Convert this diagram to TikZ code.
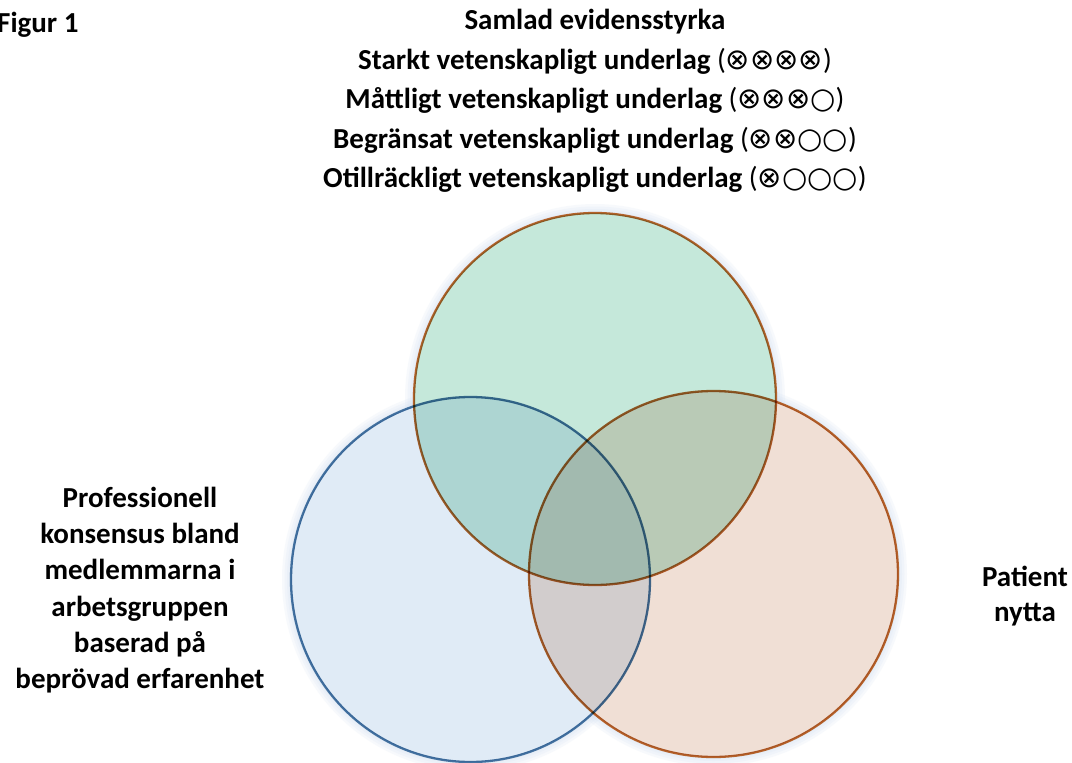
\documentclass[tikz,border=0pt]{standalone}
\usepackage{fontspec}
\setmainfont{Carlito}
\newfontfamily\symfont{DejaVu Sans}
\definecolor{greenfill}{HTML}{C5E8DA}
\definecolor{bluefill}{HTML}{E0EBF6}
\definecolor{orangefill}{HTML}{F0DFD5}
\definecolor{rustline}{HTML}{B5622A}
\definecolor{blueline}{HTML}{4472A0}
\definecolor{halo}{HTML}{C9DAEE}
\newcommand{\xo}{{\symfont ⊗}}
\newcommand{\oo}{{\symfont ○}}
\tikzset{
  label text/.style={font=\fontsize{29}{37}\selectfont\bfseries, align=center, inner sep=0pt},
  ring/.style={line width=2.3pt},
  glow/.style={draw=halo, opacity=0.14}
}
\begin{document}
\begin{tikzpicture}[x=1pt, y=-1pt]
\useasboundingbox (0,0) rectangle (1072,763);
\clip (0,0) rectangle (1072,763);
\fill[white] (0,0) rectangle (1072,763);

% soft halo behind the three sets
\foreach \w in {18,13,8,4}{
  \draw[glow, line width=\w pt] (595,399) ellipse [x radius=181pt, y radius=186pt];
  \draw[glow, line width=\w pt] (470.5,579.5) ellipse [x radius=179.5pt, y radius=182.5pt];
  \draw[glow, line width=\w pt] (713.5,574) ellipse [x radius=184.5pt, y radius=183pt];
}

% the three overlapping sets, mixed multiplicatively
\begin{scope}[blend group=multiply]
  \filldraw[ring, fill=bluefill, draw=blueline] (470.5,579.5) ellipse [x radius=179.5pt, y radius=182.5pt];
  \filldraw[ring, fill=orangefill, draw=rustline] (713.5,574) ellipse [x radius=184.5pt, y radius=183pt];
  \filldraw[ring, fill=greenfill, draw=rustline] (595,399) ellipse [x radius=181pt, y radius=186pt];
\end{scope}

\node[label text, anchor=west] (fig) at (-3,25) {Figur 1};

\node[label text, font=\fontsize{29}{39.5}\selectfont\bfseries] (evidence) at (595,101) {%
  Samlad evidensstyrka\\
  Starkt vetenskapligt underlag {\mdseries(\xo\xo\xo\xo)}\\
  Måttligt vetenskapligt underlag {\mdseries(\xo\xo\xo\oo)}\\
  Begränsat vetenskapligt underlag {\mdseries(\xo\xo\oo\oo)}\\
  Otillräckligt vetenskapligt underlag {\mdseries(\xo\oo\oo\oo)}};

\node[label text, font=\fontsize{29}{36.2}\selectfont\bfseries] (consensus) at (140,590) {%
  Professionell\\ konsensus bland\\ medlemmarna i\\ arbetsgruppen\\ baserad på\\ beprövad erfarenhet};

\node[label text, font=\fontsize{29}{35}\selectfont\bfseries] (patient) at (1025,596) {Patient\\ nytta};
\end{tikzpicture}
\end{document}
